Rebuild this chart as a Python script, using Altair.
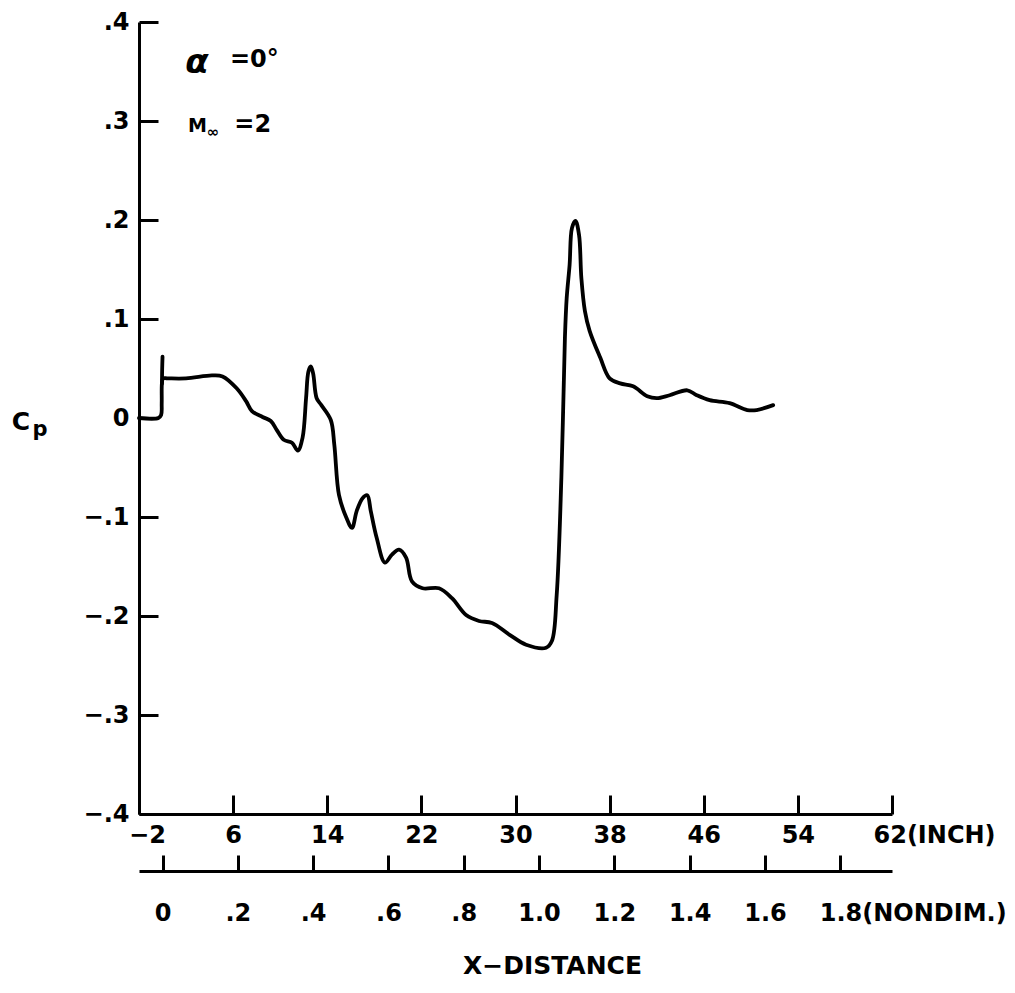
import altair as alt
import pandas as pd

# ---- data (x in inches, Cp) ----
inch = [-2.0, -0.35, -0.12, -0.07, -0.05, 0.05, 0.4, 2.0, 4.2, 5.1, 6.3, 7.1, 7.6, 8.5,
        9.2, 9.7, 10.3, 11.0, 11.5, 11.9, 12.2, 12.4, 12.6, 12.8, 13.1, 13.5, 14.3, 14.6,
        15.0, 15.6, 16.1, 16.5, 17.0, 17.4, 17.7, 18.2, 18.9, 19.5, 20.1, 20.7, 21.2, 22.1,
        23.5, 24.6, 25.8, 26.9, 28.0, 29.5, 30.9, 32.6, 33.1, 33.5, 33.9, 34.2, 34.35, 34.6,
        34.8, 35.1, 35.4, 35.6, 35.9, 36.3, 37.2, 38.0, 38.9, 40.0, 41.2, 42.0, 43.1, 44.6,
        45.4, 46.5, 48.2, 49.7, 50.5, 51.9]
cp = [0.0, 0.0, 0.003, 0.015, 0.035, 0.040, 0.040, 0.040, 0.043, 0.042, 0.030, 0.017, 0.007, 0.001,
      -0.003, -0.012, -0.022, -0.025, -0.033, -0.020, 0.020, 0.047, 0.052, 0.045, 0.020, 0.013, -0.002, -0.027,
      -0.078, -0.100, -0.111, -0.094, -0.081, -0.078, -0.094, -0.121, -0.146, -0.138, -0.133, -0.141, -0.165, -0.172,
      -0.172, -0.182, -0.199, -0.205, -0.207, -0.219, -0.229, -0.232, -0.225, -0.179, -0.060, 0.081, 0.121, 0.155,
      0.192, 0.199, 0.185, 0.141, 0.108, 0.088, 0.061, 0.040, 0.035, 0.032, 0.022, 0.020, 0.023, 0.028,
      0.023, 0.018, 0.015, 0.008, 0.008, 0.013]
spike_inch = [-0.05, -0.03, 0.0]
spike_cp = [0.035, 0.050, 0.062]

x_ticks = [-2, 6, 14, 22, 30, 38, 46, 54, 62]
y_ticks = [-0.4, -0.3, -0.2, -0.1, 0.0, 0.1, 0.2, 0.3, 0.4]
nd_ticks = [0.0, 0.2, 0.4, 0.6, 0.8, 1.0, 1.2, 1.4, 1.6, 1.8]
inch_per_nondim = 32

FONT = "DejaVu Sans"

curve_df = pd.DataFrame({
    "inch": inch + spike_inch,
    "cp": cp + spike_cp,
    "seg": ["main"] * len(inch) + ["spike"] * len(spike_inch),
    "i": list(range(len(inch))) + list(range(len(spike_inch))),
})

x_scale = alt.Scale(domain=[x_ticks[0], x_ticks[-1]], nice=False, zero=False)
y_scale = alt.Scale(domain=[y_ticks[0], y_ticks[-1]], nice=False, zero=False)

x_axis = alt.Axis(
    values=x_ticks, orient="bottom", title=None, grid=False,
    domainColor="black", domainWidth=3, tickColor="black", tickWidth=3,
    tickSize={"expr": "-19"}, labelPadding=28,
    labelFont=FONT, labelFontSize=24, labelFontWeight="bold", labelColor="black",
    labelOverlap=False, labelFlush=False, labelLimit=0,
    labelExpr="datum.value == -2 ? '\u22122' : datum.value == 62 ? '62(INCH)' : datum.label",
    labelAlign={"condition": {"test": "datum.value == 62", "value": "left"}, "value": "center"},
    labelOffset={"condition": [{"test": "datum.value == 62", "value": -19},
                               {"test": "datum.value == -2", "value": 8}], "value": 0},
)
y_axis = alt.Axis(
    values=y_ticks, orient="left", title=None, grid=False,
    domainColor="black", domainWidth=3, tickColor="black", tickWidth=3,
    tickSize={"expr": "-19"}, labelPadding=29,
    labelFont=FONT, labelFontSize=24, labelFontWeight="bold", labelColor="black",
    labelOverlap=False, labelFlush=False,
    labelExpr="datum.value == 0 ? '0' : (datum.value < 0 ? '\u2212' : '') + '.' + format(abs(datum.value) * 10, '.0f')",
)

curve = alt.Chart(curve_df).mark_line(
    color="black", strokeWidth=3.8, interpolate="catmull-rom", strokeCap="round", strokeJoin="round"
).encode(
    x=alt.X("inch:Q", scale=x_scale, axis=x_axis),
    y=alt.Y("cp:Q", scale=y_scale, axis=y_axis),
    detail="seg:N",
    order="i:Q",
)

def txt(df, size, align="left", style="normal", baseline="alphabetic"):
    return alt.Chart(pd.DataFrame(df)).mark_text(
        font=FONT, fontSize=size, fontWeight="bold", fontStyle=style, color="black",
        align=align, baseline=baseline,
    ).encode(x=alt.X("x:Q", scale=x_scale), y=alt.Y("y:Q", scale=y_scale), text="t:N")

alpha = txt({"t": ["\u03b1"], "x": [2.93], "y": [0.348]}, 34, align="center", style="italic")
alpha_val = txt({"t": ["=0\u00b0"], "x": [5.73], "y": [0.3545]}, 24)
mach_m = txt({"t": ["M"], "x": [2.16], "y": [0.289]}, 19)
mach_inf = txt({"t": ["\u221e"], "x": [3.75], "y": [0.284]}, 15)
mach_val = txt({"t": ["=2"], "x": [6.1], "y": [0.289]}, 24)
cp_c = txt({"t": ["C"], "x": [-12.03], "y": [-0.012]}, 25, align="center")
cp_p = txt({"t": ["p"], "x": [-10.41], "y": [-0.018]}, 21, align="center")

main = alt.layer(curve, alpha, alpha_val, mach_m, mach_inf, mach_val, cp_c, cp_p)

nd_axis = alt.Axis(
    values=nd_ticks, orient="bottom", offset=57, grid=False,
    domainColor="black", domainWidth=3, tickColor="black", tickWidth=3,
    tickSize={"expr": "-16"}, labelPadding=46,
    labelFont=FONT, labelFontSize=24, labelFontWeight="bold", labelColor="black",
    labelOverlap=False, labelFlush=False, labelLimit=0,
    labelExpr="datum.value == 0 ? '0' : datum.value < 1 ? '.' + format(datum.value * 10, '.0f') : "
              "datum.value == 1.8 ? '1.8(NONDIM.)' : format(datum.value, '.1f')",
    labelAlign={"condition": {"test": "datum.value == 1.8", "value": "left"}, "value": "center"},
    labelOffset={"condition": {"test": "datum.value == 1.8", "value": -21}, "value": 0},
    title="X\u2212DISTANCE", titleFont=FONT, titleFontSize=25, titleFontWeight="bold",
    titleColor="black", titleX=413, titleY=102, titleBaseline="alphabetic", titleAlign="center",
    titleLimit=0,
)
nd_layer = alt.Chart(pd.DataFrame({"nd": nd_ticks})).mark_point(opacity=0).encode(
    x=alt.X("nd:Q",
            scale=alt.Scale(domain=[x_ticks[0] / inch_per_nondim, x_ticks[-1] / inch_per_nondim],
                            nice=False, zero=False),
            axis=nd_axis),
)

chart = alt.layer(main, nd_layer).resolve_scale(x="independent").resolve_axis(x="independent").properties(
    width=753, height=792,
    autosize=alt.AutoSizeParams(type="none"),
    padding={"left": 131, "top": 14, "right": 115, "bottom": 166},
    background="white",
).configure_view(stroke=None)

chart.save("out.html", embed_options={"renderer": "svg", "actions": False})
